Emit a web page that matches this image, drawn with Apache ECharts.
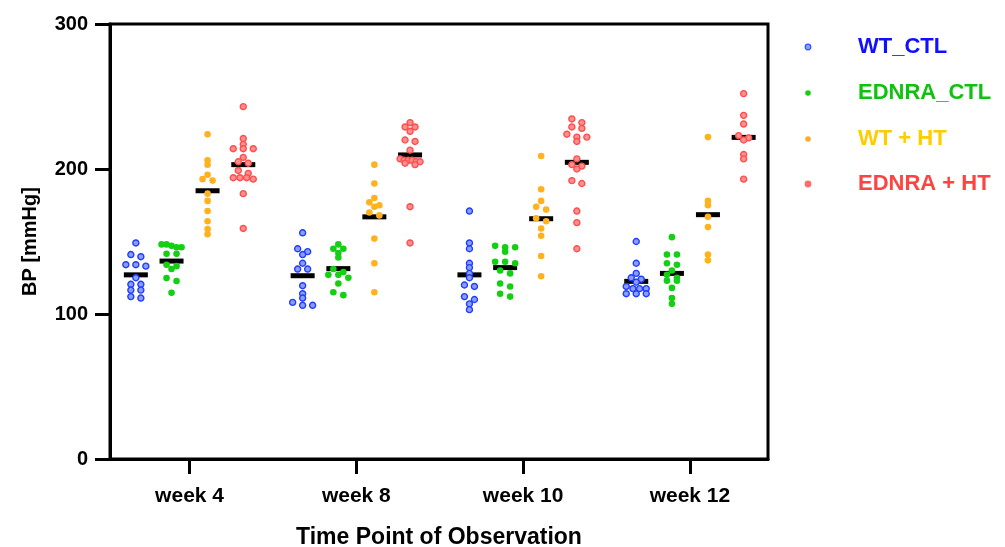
<!DOCTYPE html>
<html><head><meta charset="utf-8">
<script src="https://cdn.jsdelivr.net/npm/echarts@6/dist/echarts.min.js"></script>
<style>html,body{margin:0;padding:0;background:#fff}#c{width:1005px;height:547px}</style>
</head><body><div id="c"></div>
<script>
// ---- data ----
const weeks = ['week 4', 'week 8', 'week 10', 'week 12'];
const yTicks = [0, 100, 200, 300];
const seriesNames = ['WT_CTL', 'EDNRA_CTL', 'WT + HT', 'EDNRA + HT'];

const wtCtlW4 = [149, 141, 139.5, 134, 133, 134, 125, 120.5, 120.5, 116.5, 116.5, 112, 111];
const wtCtlW8 = [156, 145, 143, 141, 135, 131, 131, 119.5, 114, 111, 108, 106, 106];
const wtCtlW10 = [171, 149, 145, 135, 132, 128, 125, 120, 119, 112, 110, 107, 103];
const wtCtlW12 = [150, 135, 128, 125, 124, 122, 119, 117.5, 117.5, 117.5, 114, 114, 114];

const ednraCtlW4 = [148, 148, 147, 146, 146, 141.6, 141.6, 134, 133, 131, 124.8, 122.8, 114.7];
const ednraCtlW8 = [148, 145, 145, 142, 139, 131, 129, 127, 127, 125, 121, 115, 113];
const ednraCtlW10 = [147, 146, 146, 143, 136, 136, 135, 130, 128, 121, 119, 114, 112];
const ednraCtlW12 = [153, 141, 141, 135, 134, 130, 127, 125, 123, 123, 118, 111, 107];

const wtHtW4 = [224, 206, 203, 196, 193, 192, 183, 178, 171, 164, 158.6, 155];
const wtHtW8 = [203, 190, 180, 177, 175, 174, 170, 168, 152, 135, 115];
const wtHtW10 = [209, 186, 178, 174, 172, 166, 164, 159, 154, 140, 126];
const wtHtW12 = [222, 178, 175, 167, 160, 141, 137];

const ednraHtW4 = [243, 221, 217, 214, 214, 214, 208, 205, 204, 199, 197, 194, 194, 194, 193, 183, 159];
const ednraHtW8 = [232, 229, 229, 226, 220, 219, 213, 207, 206, 206, 206, 205, 205, 204, 203, 174, 149];
const ednraHtW10 = [234.5, 232, 229, 228, 224, 222, 222, 219, 207, 203, 202, 200, 192, 190, 171, 163, 145];
const ednraHtW12 = [252, 237, 231, 223, 221.5, 220, 210, 207, 193];

const medWtCtl = [127, 126.4, 127, 122.5];
const medEdnraCtl = [136.5, 131.3, 132, 128];
const medWtHt = [185, 167, 165.7, 168.5];
const medEdnraHt = [203, 209.7, 204.6, 221.8];

// ---- styling / layout ----
const groups = [
  [wtCtlW4, wtCtlW8, wtCtlW10, wtCtlW12],
  [ednraCtlW4, ednraCtlW8, ednraCtlW10, ednraCtlW12],
  [wtHtW4, wtHtW8, wtHtW10, wtHtW12],
  [ednraHtW4, ednraHtW8, ednraHtW10, ednraHtW12]
];
const medians = [medWtCtl, medEdnraCtl, medWtHt, medEdnraHt];
const groupOffset = [-0.322, -0.108, 0.108, 0.322];
const pointStyles = [
  {color: '#8a9dff', borderColor: '#1f3dff', borderWidth: 1.4},
  {color: '#14cf14', borderColor: '#14cf14', borderWidth: 0},
  {color: '#ffb21e', borderColor: '#ffb21e', borderWidth: 0},
  {color: '#ff8f8f', borderColor: '#ff4d4d', borderWidth: 1.4}
];
const pointSizes = [6, 6.6, 6.6, 6];
const legendTextColors = ['#1010ff', '#0fc20f', '#ffcc00', '#ff4343'];
const legendDotColors = ['#3355ff', '#14cf14', '#ffa82a', '#ff6b6b'];
const font = '"Liberation Sans", Arial, Helvetica, sans-serif';
const xMin = -0.477, xMax = 3.468;

const chart = echarts.init(document.getElementById('c'), null, {renderer: 'canvas'});

const baseOption = {
  animation: false,
  backgroundColor: '#fff',
  grid: {left: 110, right: 237, top: 24, bottom: 88, containLabel: false, outerBoundsMode: 'none',
    show: true, borderColor: '#000', borderWidth: 3, backgroundColor: 'transparent'},
  xAxis: {
    type: 'value', min: xMin, max: xMax,
    name: 'Time Point of Observation', nameLocation: 'middle', nameGap: 67,
    nameTextStyle: {color: '#000', fontSize: 23, fontWeight: 'bold', fontFamily: font},
    splitLine: {show: false},
    axisLine: {show: true, onZero: false, lineStyle: {color: '#000', width: 3}},
    axisTick: {show: true, inside: false, length: 15, lineStyle: {color: '#000', width: 3}, customValues: [0, 1, 2, 3]},
    axisLabel: {customValues: [0, 1, 2, 3], formatter: v => weeks[Math.round(v)], margin: 27,
      color: '#000', fontSize: 21, fontWeight: 'bold', fontFamily: font}
  },
  yAxis: {
    type: 'value', min: yTicks[0], max: yTicks[yTicks.length - 1], interval: 100,
    name: 'BP [mmHg]', nameLocation: 'middle', nameGap: 70, nameRotate: 90,
    nameTextStyle: {color: '#000', fontSize: 20, fontWeight: 'bold', fontFamily: font},
    splitLine: {show: false},
    axisLine: {show: true, onZero: false, lineStyle: {color: '#000', width: 3}},
    axisTick: {show: true, inside: false, length: 15, lineStyle: {color: '#000', width: 3}},
    axisLabel: {margin: 22, color: '#000', fontSize: 20, fontWeight: 'bold', fontFamily: font}
  },
  series: []
};
chart.setOption(baseOption);

// pixel scales from the library's own axes
const p00 = chart.convertToPixel({gridIndex: 0}, [0, 0]);
const p11 = chart.convertToPixel({gridIndex: 0}, [1, 1]);
const pxPerX = p11[0] - p00[0];
const pxPerY = p00[1] - p11[1];

// simple binned beeswarm: values whose pixel heights are close sit side by side
function swarm(values) {
  const idx = values.map((v, i) => i).sort((a, b) => values[b] - values[a]);
  const off = new Array(values.length).fill(0);
  const binPx = 4, maxSpan = 20, step = 10;
  let i = 0;
  while (i < idx.length) {
    let j = i + 1;
    while (j < idx.length && (values[idx[i]] - values[idx[j]]) * pxPerY < binPx) j++;
    const n = j - i;
    const s = n > 1 ? Math.min(step, maxSpan / (n - 1)) : 0;
    for (let k = 0; k < n; k++) off[idx[i + k]] = (k - (n - 1) / 2) * s;
    i = j;
  }
  return off;
}

const series = [];
groups.forEach((g, s) => {
  series.push({
    name: seriesNames[s] + ' median', type: 'scatter', z: 2,
    symbol: 'rect', symbolSize: [24, 5],
    itemStyle: {color: '#000', opacity: 1},
    data: medians[s].map((m, w) => [w + groupOffset[s], m])
  });
});
groups.forEach((g, s) => {
  const data = [];
  g.forEach((vals, w) => {
    const off = swarm(vals);
    vals.forEach((v, i) => data.push([w + groupOffset[s] + off[i] / pxPerX, v]));
  });
  series.push({
    name: seriesNames[s], type: 'scatter', z: 3,
    symbol: 'circle', symbolSize: pointSizes[s],
    itemStyle: Object.assign({opacity: 1}, pointStyles[s]),
    data
  });
});

// legend drawn as graphic text + dots
const legendY = [47, 93, 139, 184];
const graphic = [];
seriesNames.forEach((n, s) => {
  graphic.push({type: 'circle', shape: {cx: 808, cy: legendY[s], r: 2.8},
    style: {fill: s === 0 ? '#8a9dff' : legendDotColors[s], stroke: legendDotColors[s], lineWidth: s === 0 || s === 3 ? 1.2 : 0}});
  graphic.push({type: 'text', x: 858, y: legendY[s],
    style: {text: n, fill: legendTextColors[s], fontSize: 22, fontWeight: 'bold', fontFamily: font, verticalAlign: 'middle', align: 'left'}});
});

chart.setOption({series, graphic});
</script>
</body></html>
